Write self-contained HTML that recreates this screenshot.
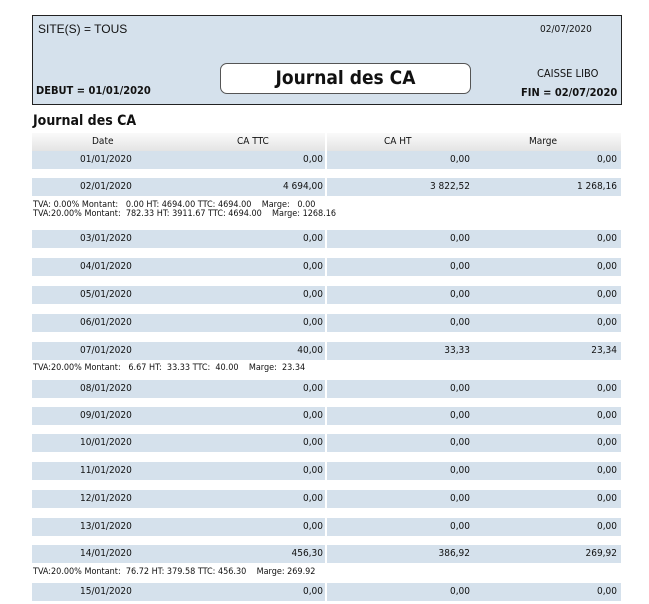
<!DOCTYPE html>
<html><head><meta charset="utf-8"><style>
body{margin:0;width:649px;height:604px;background:#fff;position:relative;overflow:hidden;font-family:"DejaVu Sans Condensed","Liberation Sans",sans-serif;color:#111}
.a{position:absolute;white-space:nowrap}
.hdr{left:32px;top:15px;width:588px;height:88px;background:#d5e1ec;border:1px solid #222}
.tb{left:220px;top:63px;width:249px;height:29px;background:#fff;border:1px solid #555;border-radius:7px;text-align:center;font-size:19px;line-height:29px;font-weight:bold}
.row{position:absolute;left:32px;width:589px;height:18px;background:#d5e1ec;font-size:10px;line-height:18px}
.row span{position:absolute;top:0}
.row .d{left:48px}
.row .c1{right:298px}
.row .c2{right:151px}
.row .c3{right:4px}
.row i{position:absolute;left:293px;top:0;width:2px;height:18px;background:#fff}
.det{position:absolute;left:33px;font-size:9px;line-height:9px}
</style></head><body>
<div class="a hdr"></div>
<div class="a" style="left:38px;top:22px;font-size:12px;font-family:'Liberation Sans',sans-serif">SITE(S) = TOUS</div>
<div class="a" style="left:540px;top:24px;font-size:10px">02/07/2020</div>
<div class="a tb">Journal des CA</div>
<div class="a" style="left:36px;top:84px;font-size:11px;font-weight:bold">DEBUT = 01/01/2020</div>
<div class="a" style="left:537px;top:67px;font-size:11px">CAISSE LIBO</div>
<div class="a" style="left:521px;top:86px;font-size:11px;font-weight:bold">FIN = 02/07/2020</div>
<div class="a" style="left:33px;top:113px;font-size:14px;font-weight:bold">Journal des CA</div>
<div class="a" style="left:32px;top:133px;width:589px;height:18px;background:linear-gradient(#fafafa,#e4e4e4);font-size:10px;line-height:18px">
<span class="a" style="left:60px">Date</span><span class="a" style="left:205px">CA TTC</span><span class="a" style="left:352px">CA HT</span><span class="a" style="left:497px">Marge</span><i class="a" style="left:293px;top:0;width:2px;height:18px;background:#fff"></i></div>

<div class="row" style="top:151px"><span class="d">01/01/2020</span><span class="c1">0,00</span><i></i><span class="c2">0,00</span><span class="c3">0,00</span></div>
<div class="row" style="top:178px"><span class="d">02/01/2020</span><span class="c1">4 694,00</span><i></i><span class="c2">3 822,52</span><span class="c3">1 268,16</span></div>
<div class="det" style="top:201px">TVA: 0.00% Montant:&nbsp;&nbsp; 0.00 HT: 4694.00 TTC: 4694.00&nbsp;&nbsp;&nbsp; Marge:&nbsp;&nbsp; 0.00</div>
<div class="det" style="top:210px">TVA:20.00% Montant:&nbsp; 782.33 HT: 3911.67 TTC: 4694.00&nbsp;&nbsp;&nbsp; Marge: 1268.16</div>
<div class="row" style="top:230px"><span class="d">03/01/2020</span><span class="c1">0,00</span><i></i><span class="c2">0,00</span><span class="c3">0,00</span></div>
<div class="row" style="top:258px"><span class="d">04/01/2020</span><span class="c1">0,00</span><i></i><span class="c2">0,00</span><span class="c3">0,00</span></div>
<div class="row" style="top:286px"><span class="d">05/01/2020</span><span class="c1">0,00</span><i></i><span class="c2">0,00</span><span class="c3">0,00</span></div>
<div class="row" style="top:314px"><span class="d">06/01/2020</span><span class="c1">0,00</span><i></i><span class="c2">0,00</span><span class="c3">0,00</span></div>
<div class="row" style="top:342px"><span class="d">07/01/2020</span><span class="c1">40,00</span><i></i><span class="c2">33,33</span><span class="c3">23,34</span></div>
<div class="det" style="top:364px">TVA:20.00% Montant:&nbsp;&nbsp; 6.67 HT:&nbsp; 33.33 TTC:&nbsp; 40.00&nbsp;&nbsp;&nbsp; Marge:&nbsp; 23.34</div>
<div class="row" style="top:380px"><span class="d">08/01/2020</span><span class="c1">0,00</span><i></i><span class="c2">0,00</span><span class="c3">0,00</span></div>
<div class="row" style="top:407px"><span class="d">09/01/2020</span><span class="c1">0,00</span><i></i><span class="c2">0,00</span><span class="c3">0,00</span></div>
<div class="row" style="top:434px"><span class="d">10/01/2020</span><span class="c1">0,00</span><i></i><span class="c2">0,00</span><span class="c3">0,00</span></div>
<div class="row" style="top:462px"><span class="d">11/01/2020</span><span class="c1">0,00</span><i></i><span class="c2">0,00</span><span class="c3">0,00</span></div>
<div class="row" style="top:490px"><span class="d">12/01/2020</span><span class="c1">0,00</span><i></i><span class="c2">0,00</span><span class="c3">0,00</span></div>
<div class="row" style="top:518px"><span class="d">13/01/2020</span><span class="c1">0,00</span><i></i><span class="c2">0,00</span><span class="c3">0,00</span></div>
<div class="row" style="top:545px"><span class="d">14/01/2020</span><span class="c1">456,30</span><i></i><span class="c2">386,92</span><span class="c3">269,92</span></div>
<div class="det" style="top:568px">TVA:20.00% Montant:&nbsp; 76.72 HT: 379.58 TTC: 456.30&nbsp;&nbsp;&nbsp; Marge: 269.92</div>
<div class="row" style="top:583px"><span class="d">15/01/2020</span><span class="c1">0,00</span><i></i><span class="c2">0,00</span><span class="c3">0,00</span></div>
</body></html>
